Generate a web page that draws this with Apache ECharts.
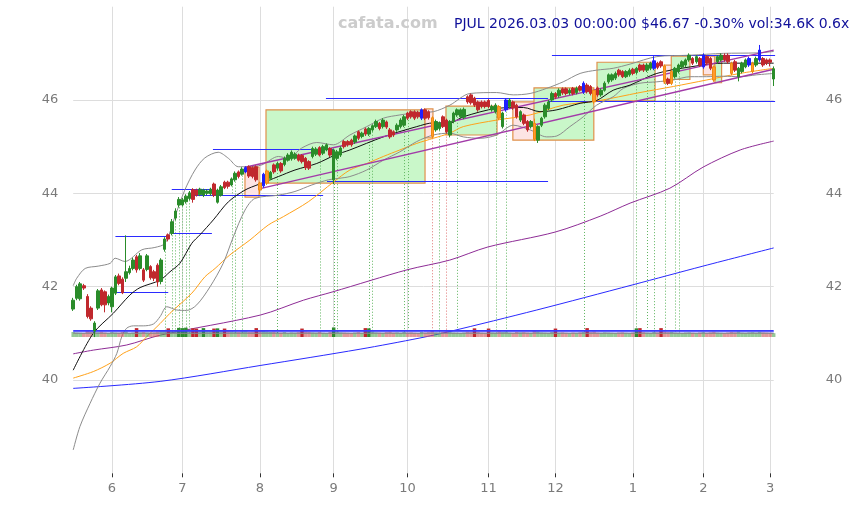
<!DOCTYPE html>
<html><head><meta charset="utf-8">
<script src="https://cdn.jsdelivr.net/npm/echarts@6/dist/echarts.min.js"></script>
<style>html,body{margin:0;padding:0;background:#fff}#c{width:853px;height:505px}</style>
</head><body><div id="c"></div>
<script>
// ---------- categories (US trading days) ----------
const firstDay = '2025-05-15', lastDay = '2026-03-03';
const holidays = ['2025-05-26','2025-06-19','2025-07-04','2025-09-01','2025-11-27','2025-12-25','2026-01-01','2026-01-19','2026-02-16'];
function tradingDays(a, b, hol) {
  const out = []; let d = new Date(a + 'T00:00:00Z'); const e = new Date(b + 'T00:00:00Z');
  while (d <= e) { const s = d.toISOString().slice(0, 10); const w = d.getUTCDay();
    if (w !== 0 && w !== 6 && hol.indexOf(s) < 0) out.push(s); d = new Date(d.getTime() + 86400000); }
  return out;
}
const dates = tradingDays(firstDay, lastDay, holidays);

// ---------- OHLC ----------
const opens = [41.52,41.75,41.74,42.02,41.79,41.54,41.05,41.54,41.93,41.89,41.65,41.57,41.86,42.23,42.16,42.18,42.30,42.39,42.64,42.39,
42.36,42.37,42.43,42.32,42.46,42.11,42.80,43.11,43.14,43.47,43.75,43.75,43.82,43.89,44.08,44.07,43.97,43.96,44.00,43.99,
44.20,43.81,43.96,44.24,44.24,44.18,44.29,44.46,44.41,44.46,44.57,44.55,44.57,44.22,44.16,44.22,44.32,44.61,44.54,44.64,
44.62,44.71,44.74,44.75,44.82,44.81,44.75,44.68,44.79,44.84,44.98,44.86,44.93,44.96,44.29,44.75,44.82,45.11,45.11,45.14,
45.10,45.32,45.22,45.38,45.27,45.36,45.43,45.50,45.43,45.53,45.36,45.32,45.36,45.43,45.46,45.72,45.75,45.75,45.74,45.61,
45.79,45.75,45.62,45.36,45.39,45.64,45.57,45.25,45.54,45.68,45.64,45.63,46.07,46.11,46.04,45.96,45.96,45.96,45.99,45.79,
45.75,45.86,45.43,45.79,45.86,45.96,45.89,45.57,45.68,45.54,45.43,45.50,45.14,45.46,45.64,45.82,46.00,46.14,46.09,46.24,
46.24,46.15,46.25,46.16,46.29,46.17,46.32,46.29,46.21,46.26,46.11,46.21,46.39,46.43,46.47,46.64,46.61,46.50,46.54,46.66,
46.59,46.75,46.75,46.64,46.68,46.68,46.79,46.82,46.73,46.45,46.36,46.50,46.61,46.71,46.75,46.86,46.89,46.82,46.89,46.71,
46.93,46.89,46.71,46.82,46.86,46.96,46.96,46.79,46.82,46.50,46.61,46.71,46.75,46.61,46.75,46.86,46.89,46.86,46.86,46.45];
const highs = [41.76,42.04,42.10,42.06,41.84,41.58,41.26,41.95,41.97,41.92,41.83,42.00,42.25,42.28,42.20,43.10,42.45,42.62,42.68,42.72,
42.40,42.70,42.46,42.36,42.50,42.61,43.06,43.14,43.45,43.68,43.92,43.90,43.98,44.05,44.11,44.10,44.12,44.10,44.09,44.12,
44.23,44.10,44.18,44.27,44.27,44.34,44.47,44.49,44.56,44.58,44.60,44.58,44.60,44.25,44.44,44.51,44.48,44.64,44.68,44.67,
44.79,44.86,44.92,44.88,44.85,44.84,44.78,44.71,45.00,44.99,45.01,45.04,45.07,44.99,44.96,44.93,45.01,45.14,45.14,45.17,
45.26,45.35,45.32,45.41,45.42,45.48,45.58,45.53,45.61,45.56,45.40,45.35,45.50,45.61,45.68,45.75,45.78,45.78,45.77,45.82,
45.82,45.78,45.65,45.58,45.54,45.67,45.60,45.57,45.75,45.82,45.82,45.84,46.10,46.14,46.07,45.99,45.99,45.99,46.02,45.90,
45.93,45.89,45.75,46.04,46.04,45.99,45.92,45.78,45.71,45.57,45.57,45.60,45.46,45.64,45.93,46.00,46.18,46.17,46.25,46.27,
46.27,46.25,46.28,46.29,46.32,46.40,46.36,46.32,46.24,46.29,46.25,46.40,46.57,46.57,46.61,46.67,46.64,46.64,46.68,46.69,
46.71,46.78,46.78,46.79,46.82,46.94,46.82,46.85,46.76,46.48,46.64,46.71,46.78,46.85,46.89,47.00,46.92,46.96,46.92,47.00,
46.96,46.92,46.74,46.96,47.00,47.00,47.00,46.82,46.86,46.71,46.82,46.89,46.93,46.82,46.93,47.18,46.92,46.89,46.89,46.72];
const lows = [41.48,41.71,41.70,41.93,41.32,41.27,40.92,41.50,41.58,41.45,41.60,41.45,41.82,42.03,41.84,42.10,42.26,42.35,42.30,42.35,
42.10,42.33,42.15,42.12,42.00,42.05,42.75,42.97,43.10,43.42,43.70,43.72,43.78,43.85,43.80,43.93,43.94,43.92,43.96,43.95,
43.92,43.78,43.93,44.09,44.10,44.15,44.25,44.32,44.38,44.43,44.33,44.32,44.25,43.98,44.12,44.18,44.28,44.42,44.50,44.44,
44.58,44.68,44.70,44.72,44.68,44.64,44.50,44.50,44.75,44.80,44.79,44.82,44.90,44.78,44.20,44.71,44.78,44.96,45.00,45.00,
45.06,45.14,45.18,45.23,45.23,45.32,45.40,45.35,45.39,45.38,45.17,45.21,45.32,45.39,45.42,45.57,45.60,45.57,45.60,45.57,
45.57,45.58,45.18,45.32,45.35,45.40,45.28,45.20,45.50,45.64,45.60,45.59,45.92,45.90,45.85,45.75,45.82,45.82,45.82,45.75,
45.71,45.57,45.39,45.75,45.82,45.79,45.60,45.53,45.46,45.32,45.39,45.12,45.08,45.42,45.60,45.78,45.96,46.02,46.05,46.11,
46.10,46.11,46.10,46.12,46.18,46.13,46.14,46.10,45.92,46.07,46.07,46.18,46.35,46.39,46.43,46.50,46.47,46.47,46.50,46.53,
46.55,46.60,46.60,46.60,46.64,46.64,46.66,46.69,46.35,46.32,46.32,46.46,46.57,46.68,46.71,46.82,46.75,46.78,46.71,46.67,
46.75,46.64,46.39,46.78,46.82,46.82,46.78,46.53,46.60,46.40,46.57,46.68,46.71,46.57,46.71,46.82,46.71,46.75,46.72,46.30];
const closes = [41.71,42.00,42.06,41.97,41.36,41.31,41.22,41.91,41.61,41.61,41.79,41.97,42.21,42.07,41.87,42.32,42.39,42.57,42.36,42.66,
42.14,42.66,42.19,42.18,42.10,42.57,43.02,43.02,43.39,43.62,43.87,43.86,43.94,44.01,43.87,43.96,44.09,44.07,44.05,44.09,
43.96,44.07,44.14,44.12,44.15,44.31,44.43,44.36,44.52,44.55,44.37,44.36,44.29,44.07,44.41,44.48,44.45,44.46,44.64,44.48,
44.75,44.82,44.88,44.84,44.71,44.68,44.55,44.54,44.96,44.95,44.82,45.00,45.04,44.82,44.93,44.89,44.97,45.00,45.04,45.04,
45.23,45.18,45.29,45.27,45.39,45.45,45.54,45.39,45.57,45.42,45.21,45.25,45.46,45.57,45.64,45.61,45.64,45.61,45.64,45.79,
45.61,45.62,45.22,45.54,45.50,45.43,45.32,45.54,45.72,45.79,45.79,45.80,45.96,45.94,45.89,45.79,45.86,45.86,45.86,45.86,
45.89,45.61,45.72,46.00,46.00,45.83,45.64,45.75,45.50,45.36,45.54,45.16,45.43,45.61,45.89,45.96,46.14,46.06,46.21,46.15,
46.14,46.21,46.14,46.25,46.21,46.36,46.18,46.14,45.96,46.11,46.21,46.36,46.54,46.54,46.57,46.54,46.50,46.61,46.64,46.57,
46.68,46.64,46.64,46.75,46.79,46.84,46.70,46.73,46.39,46.36,46.61,46.68,46.75,46.82,46.86,46.96,46.79,46.93,46.75,46.96,
46.79,46.68,46.43,46.93,46.96,46.86,46.82,46.57,46.64,46.68,46.79,46.86,46.89,46.79,46.89,47.07,46.75,46.79,46.81,46.67];
const blueCandles = [49,54,99,123,145,165,179,192,195];
const orangeCandles = [53,55,102,121,131,148,168,170,182,187,193];

// ---------- volume ----------
const volumes = [45000,40000,38000,35000,62000,50000,55000,42000,48000,40000,36000,44000,40000,38000,46000,50000,35000,40000,80000,42000,
45000,40000,38000,42000,50000,55000,58000,78000,60000,62000,82000,80000,84000,64000,78000,76000,58000,80000,55000,58000,
76000,78000,58000,76000,55000,50000,48000,45000,50000,52000,45000,48000,80000,58000,55000,50000,45000,48000,42000,40000,
45000,38000,42000,40000,44000,76000,50000,46000,42000,40000,45000,38000,36000,44000,86000,50000,42000,40000,38000,36000,
40000,44000,38000,80000,78000,50000,42000,40000,38000,44000,48000,40000,42000,38000,45000,40000,42000,38000,36000,45000,
40000,44000,55000,42000,40000,46000,50000,45000,40000,38000,36000,40000,48000,44000,78000,46000,40000,38000,76000,42000,
40000,50000,44000,48000,40000,38000,45000,42000,44000,40000,38000,55000,50000,42000,40000,38000,45000,76000,40000,42000,
38000,36000,40000,38000,42000,45000,80000,44000,50000,40000,38000,42000,40000,38000,36000,40000,42000,38000,36000,40000,
78000,80000,44000,40000,38000,45000,42000,80000,50000,44000,46000,40000,38000,36000,40000,42000,38000,36000,40000,44000,
38000,42000,48000,40000,38000,36000,40000,46000,42000,50000,40000,38000,42000,44000,40000,48000,42000,40000,38000,34600];
const volAvgA = [[0,58000],[199,58000]];
const volAvgB = [[0,47000],[199,47000]];
const volAvgC = [[0,33000],[199,33000]];

// ---------- indicator lines (index, value) ----------
const maBlack = [[0,40.21],[5.7,41.00],[11.4,41.43],[16.1,41.82],[19,41.98],[24.7,42.14],[27.5,42.32],[30.3,42.50],[33.7,42.93],[36,43.11],[39.8,43.43],[44.1,43.82],[48.8,44.07],[52.6,44.19],[58.3,44.36],[63,44.50],[69.2,44.64],[74.4,44.82],[78.6,44.93],[88.1,45.21],[97.6,45.43],[102.3,45.51],[107,45.51],[110.8,45.64],[120.3,45.82],[127.9,45.84],[132.6,45.75],[137.4,45.79],[144,45.93],[148.7,45.99],[153.4,46.21],[158.2,46.32],[165.8,46.57],[175.3,46.71],[184.7,46.79],[194.2,46.79],[199,46.79]];
const bandUpper = [[0,42.02],[1,42.18],[3.4,42.39],[7.1,42.44],[10.5,42.50],[11.9,42.61],[14.7,42.54],[19.5,42.79],[23.2,42.84],[26.1,42.93],[28.9,43.50],[31.7,44.07],[34.6,44.50],[37.4,44.76],[41.2,44.88],[44.1,44.75],[46.9,44.57],[49.7,44.57],[53.6,44.61],[58.3,44.79],[61.1,44.75],[64.9,44.97],[69.2,45.09],[73.9,45.04],[78.6,45.25],[83.4,45.43],[88.1,45.61],[92.8,45.68],[97.6,45.73],[102.3,45.75],[107,45.89],[112.7,46.14],[120.3,46.16],[125,46.11],[129.8,46.14],[134.5,46.25],[139.2,46.39],[144,46.57],[148.7,46.64],[153.4,46.68],[158.2,46.77],[165.8,46.93],[175.3,46.96],[184.7,47.00],[194.2,47.01],[199,47.04]];
const bandLower = [[0,38.50],[1.9,39.00],[4.8,39.50],[7.6,39.93],[10.5,40.29],[12.4,40.57],[13.8,40.93],[15.2,41.11],[17.1,41.16],[19.9,41.16],[22.8,41.20],[24.7,41.36],[26.6,41.57],[29.4,41.50],[32.2,41.49],[35.1,41.61],[38.9,42.00],[42.6,42.50],[45.5,43.07],[48.8,43.64],[51.6,43.89],[58.3,43.96],[63,44.04],[67.8,44.18],[72.5,44.29],[75.3,44.32],[78.6,44.36],[83.4,44.50],[88.1,44.71],[92.8,44.89],[97.6,45.11],[102.3,45.25],[107,45.29],[110.8,45.21],[115.6,45.18],[120.3,45.25],[125,45.46],[129.8,45.36],[134.5,45.21],[137.4,45.23],[141.1,45.43],[144.9,45.64],[148.7,45.89],[153.4,46.07],[156.3,46.25],[161,46.36],[165.8,46.39],[170.5,46.43],[175.3,46.50],[180,46.50],[184.7,46.51],[189.4,46.50],[194.2,46.54],[199,46.57]];
const maOrange = [[0,40.04],[5.7,40.18],[10.5,40.36],[14.2,40.57],[18,40.71],[20.9,40.93],[24.7,41.21],[27.5,41.43],[33.7,41.86],[37.4,42.21],[40.3,42.39],[44.5,42.68],[50.2,43.00],[55.4,43.32],[59.7,43.50],[66.8,43.82],[73.9,44.24],[78.6,44.50],[83.4,44.64],[88.1,44.79],[92.8,44.93],[97.6,45.07],[102.3,45.18],[107,45.29],[110.8,45.43],[120.3,45.57],[129.8,45.68],[139.2,45.89],[148.8,45.98],[161,46.16],[170.5,46.29],[180,46.43],[189.4,46.57],[199,46.68]];
const maPurple = [[0,40.56],[5.7,40.64],[15.2,40.75],[24.7,40.96],[53.1,41.39],[65.4,41.71],[73.8,41.89],[94.8,42.36],[107,42.57],[117.8,42.85],[136.9,43.17],[149.7,43.51],[158.2,43.79],[169.5,44.11],[178.9,44.56],[189.5,44.93],[199,45.12]];
const maBlue = [[0,39.82],[24.7,39.97],[53.1,40.31],[81.5,40.66],[98.5,40.90],[107,41.04],[131.7,41.50],[159,42.04],[178.9,42.44],[199,42.83]];
const channelUpper = [[48.8,44.56],[199,47.07]];
const channelLower = [[52.5,44.09],[199,46.66]];

// ---------- annotations ----------
// boxes: [fromIndex, toIndex, top, bottom, kind(0 green / 1 pink)]
const boxes = [[54.77,99.95,45.79,44.22,0],[99.95,102.2,45.81,45.19,1],[48.8,52.8,44.56,43.92,1],[105.9,120.4,45.87,45.25,0],
[124.9,131.2,45.96,45.14,1],[130.9,147.9,46.26,45.14,0],[148.8,165.3,46.81,45.98,0],[167.9,170.0,46.75,46.36,1],
[169.9,175.2,46.94,46.44,0],[179.0,182.3,46.94,46.54,1],[182.3,184.2,46.96,46.37,0]];
// level lines: [fromIndex, toIndex, value]
const levels = [[12,27,43.08],[12,27,41.88],[28,39.4,43.15],[28,39.4,44.09],[34.6,71,43.96],[39.7,73.8,44.95],
[72.1,134.9,44.27],[71.8,134.9,46.05],[134.9,199.4,45.98],[136,199.4,46.96]];
const signalGreen = [26,28,29,30,31,32,33,45,46,48,58,70,74,75,84,85,94,95,104,109,120,123,145,160,163,165,168,171,172];
const signalRed = [102,106];
const signalBase = 41.0;

const titleSite = 'cafata.com';
const titleInfo = 'PJUL 2026.03.03 00:00:00 $46.67 -0.30% vol:34.6K 0.6x';

// ---------- build ----------
const GREEN = '#2a8c2a', RED = '#c0282d', FONT = 'DejaVu Sans';
const candleData = dates.map((d, i) => {
  const item = { value: [opens[i], closes[i], lows[i], highs[i]] };
  if (blueCandles.indexOf(i) >= 0) item.itemStyle = { color: '#1f1fff', color0: '#1f1fff', borderColor: '#1f1fff', borderColor0: '#1f1fff' };
  if (orangeCandles.indexOf(i) >= 0) item.itemStyle = { color: '#ff9a2e', color0: '#ff9a2e', borderColor: '#f08a10', borderColor0: '#f08a10' };
  return item;
});
const volData = volumes.map((v, i) => {
  const up = closes[i] >= opens[i]; const big = v >= 70000;
  const c = up ? (big ? '#2e8b2e' : 'rgba(80,165,80,0.6)') : (big ? '#c0282d' : 'rgba(205,85,85,0.6)');
  return { value: v, itemStyle: { color: c } };
});
const signals = signalGreen.map(i => [i, lows[i], signalBase, 0]).concat(signalRed.map(i => [i, lows[i], signalBase, 1]));
function isMonthStart(idx) { return idx > 0 && dates[idx].slice(5, 7) !== dates[idx - 1].slice(5, 7); }
const lineS = (data, color, width, z) => ({ type: 'line', xAxisIndex: 1, yAxisIndex: 0, data, smooth: 0.3, showSymbol: false, silent: true, z, lineStyle: { color, width } });

const option = {
  animation: false,
  backgroundColor: '#ffffff',
  grid: [
    { left: 73.2, right: 79.3, top: 6.7, bottom: 31.7 },
    { left: 73.2, right: 79.3, top: 297, bottom: 168 }
  ],
  xAxis: [
    { type: 'category', gridIndex: 0, data: dates, boundaryGap: false,
      axisLine: { show: false },
      axisTick: { show: true, interval: isMonthStart, length: 4, lineStyle: { color: '#333' } },
      axisLabel: { interval: isMonthStart, formatter: v => String(+v.slice(5, 7)), color: '#7a7a7a', fontSize: 13, margin: 9, fontFamily: FONT },
      splitLine: { show: true, interval: isMonthStart, lineStyle: { color: '#dddddd', width: 1 } } },
    { type: 'value', gridIndex: 0, min: 0, max: 199, show: false },
    { type: 'category', gridIndex: 1, data: dates, boundaryGap: false, show: false },
    { type: 'value', gridIndex: 1, min: 0, max: 199, show: false }
  ],
  yAxis: [
    { type: 'value', gridIndex: 0, min: 38, max: 48, interval: 2, position: 'left',
      axisLine: { show: false }, axisTick: { show: false },
      axisLabel: { showMinLabel: false, showMaxLabel: false, color: '#7a7a7a', fontSize: 13, margin: 15, fontFamily: FONT },
      splitLine: { show: true, showMinLine: false, showMaxLine: false, lineStyle: { color: '#dddddd', width: 1 } } },
    { type: 'value', gridIndex: 0, min: 38, max: 48, interval: 2, position: 'right',
      axisLine: { show: false }, axisTick: { show: false },
      axisLabel: { showMinLabel: false, showMaxLabel: false, color: '#7a7a7a', fontSize: 13, margin: 52, fontFamily: FONT },
      splitLine: { show: false } },
    { type: 'value', gridIndex: 1, min: 0, max: 360000, show: false }
  ],
  graphic: [
    { type: 'text', left: 338, top: 16, z: 100, style: { text: titleSite, fill: '#cccccc', font: 'bold 16px "DejaVu Sans"' } },
    { type: 'text', left: 454, top: 17, z: 100, style: { text: titleInfo, fill: '#10109a', font: '14px "DejaVu Sans"' } }
  ],
  series: [
    { type: 'custom', xAxisIndex: 1, yAxisIndex: 0, z: 1, silent: true, clip: false, data: boxes,
      renderItem: (p, api) => { const a = api.coord([api.value(0), api.value(2)]); const b = api.coord([api.value(1), api.value(3)]);
        return { type: 'rect', shape: { x: a[0], y: a[1], width: b[0] - a[0], height: b[1] - a[1] },
          style: { fill: api.value(4) ? '#fde4e4' : '#c9f7c9', stroke: '#e0904a', lineWidth: 1.2 } }; } },
    { type: 'custom', xAxisIndex: 1, yAxisIndex: 0, z: 2, silent: true, clip: false, data: signals,
      renderItem: (p, api) => { const a = api.coord([api.value(0), api.value(1)]); const b = api.coord([api.value(0), api.value(2)]);
        return { type: 'line', shape: { x1: Math.round(a[0]) + 0.5, y1: a[1], x2: Math.round(a[0]) + 0.5, y2: b[1] },
          style: { stroke: api.value(3) ? '#e07575' : '#5fb55f', lineWidth: 1, lineDash: [1, 2] } }; } },
    { type: 'custom', xAxisIndex: 1, yAxisIndex: 0, z: 3, silent: true, clip: false, data: levels,
      renderItem: (p, api) => { const a = api.coord([api.value(0), api.value(2)]); const b = api.coord([api.value(1), api.value(2)]);
        return { type: 'line', shape: { x1: a[0], y1: Math.round(a[1]) + 0.5, x2: b[0], y2: Math.round(a[1]) + 0.5 },
          style: { stroke: '#2b2bff', lineWidth: 1 } }; } },
    lineS(maBlue, '#2a2aff', 1, 3),
    lineS(maPurple, '#8e2c96', 1, 3),
    lineS(maOrange, '#ffa21a', 1, 3),
    lineS(bandUpper, '#8c8c8c', 1, 3),
    lineS(bandLower, '#8c8c8c', 1, 3),
    lineS(maBlack, '#111111', 1, 4),
    { type: 'line', xAxisIndex: 1, yAxisIndex: 0, data: channelUpper, showSymbol: false, silent: true, z: 4, lineStyle: { color: '#a23aa8', width: 1.4 } },
    { type: 'line', xAxisIndex: 1, yAxisIndex: 0, data: channelLower, showSymbol: false, silent: true, z: 4, lineStyle: { color: '#a23aa8', width: 1.4 } },
    { type: 'bar', xAxisIndex: 2, yAxisIndex: 2, data: volData, barWidth: 3.5, silent: true, z: 4 },
    { type: 'line', xAxisIndex: 3, yAxisIndex: 2, data: volAvgA, showSymbol: false, silent: true, z: 5, lineStyle: { color: '#3a3aff', width: 1.2 } },
    { type: 'line', xAxisIndex: 3, yAxisIndex: 2, data: volAvgB, showSymbol: false, silent: true, z: 5, lineStyle: { color: '#3a3aff', width: 1 } },
    { type: 'line', xAxisIndex: 3, yAxisIndex: 2, data: volAvgC, showSymbol: false, silent: true, z: 5, lineStyle: { color: '#888888', width: 1 } },
    { type: 'candlestick', xAxisIndex: 0, yAxisIndex: 0, data: candleData, barWidth: 3, clip: false, silent: true, z: 6,
      itemStyle: { color: GREEN, color0: RED, borderColor: GREEN, borderColor0: RED, borderWidth: 1 } }
  ]
};
const chart = echarts.init(document.getElementById('c'), null, { renderer: 'canvas', width: 853, height: 505 });
chart.setOption(option);
</script>
</body></html>
